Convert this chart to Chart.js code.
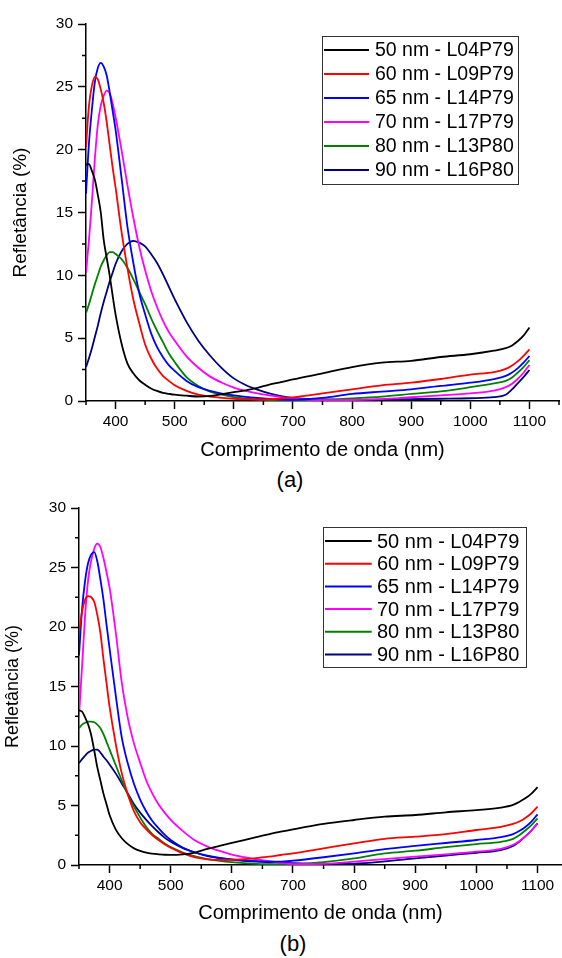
<!DOCTYPE html>
<html>
<head>
<meta charset="utf-8">
<script src="https://cdn.jsdelivr.net/npm/chart.js@4.4.0/dist/chart.umd.min.js"></script>
<style>
  body { margin: 0; background: #fff; width: 562px; height: 958px; position: relative; overflow: hidden;
         font-family: 'Liberation Sans', Arial, sans-serif; }
  canvas { position: absolute; left: 0; }
  .tag { position: absolute; font-size: 22px; line-height: 22px; color: #000; transform: translate(-50%, -50%); }
</style>
</head>
<body>
<canvas id="chartA" width="562" height="463" style="top:0"></canvas>
<div class="tag" style="left:290px;top:480px">(a)</div>
<canvas id="chartB" width="562" height="436" style="top:490px"></canvas>
<div class="tag" style="left:293px;top:944px">(b)</div>

<script>
// wavelength grid (nm)
const wavelengths = [350, 355, 360, 365, 370, 375, 380, 385, 390, 395, 400,
    410, 420, 430, 440, 450, 460, 470, 480, 490, 500,
    520, 540, 560, 580, 600, 620, 640, 660, 680, 700,
    750, 800, 850, 900, 950, 1000,
    1040, 1060, 1070, 1080, 1090, 1100];

const seriesLabels = ['50 nm - L04P79', '60 nm - L09P79', '65 nm - L14P79', '70 nm - L17P79', '80 nm - L13P80', '90 nm - L16P80'];
const seriesColors = ['#000000', '#ff0000', '#0000ff', '#ff00ff', '#008000', '#000080'];

// ==================== (a) reflectance (%) ====================
const a50 = [18.8, 18.85, 18.3, 17.6, 16.4, 15.0, 12.8, 11.4, 10.0, 8.4, 6.9,
    4.6, 3.0, 2.2, 1.65, 1.3, 1.0, 0.8, 0.65, 0.57, 0.5,
    0.42, 0.36, 0.4, 0.55, 0.7, 0.85, 1.05, 1.3, 1.5, 1.72,
    2.2, 2.7, 3.05, 3.2, 3.5, 3.72,
    4.0, 4.2, 4.4, 4.75, 5.2, 5.85];
const a60 = [20.2, 23.5, 25.1, 25.8, 25.6, 24.8, 23.7, 22.2, 20.4, 18.6, 17.0,
    13.5, 10.6, 8.1, 6.2, 4.5, 3.4, 2.6, 2.0, 1.6, 1.25,
    0.8, 0.5, 0.35, 0.25, 0.18, 0.13, 0.12, 0.14, 0.2, 0.29,
    0.6, 0.93, 1.25, 1.46, 1.75, 2.1,
    2.3, 2.55, 2.8, 3.15, 3.6, 4.1];
const a65 = [16.5, 20.5, 23.2, 25.4, 26.5, 26.9, 26.6, 25.9, 24.6, 23.1, 21.6,
    17.8, 13.9, 11.0, 8.6, 6.9, 5.4, 4.3, 3.5, 2.85, 2.4,
    1.6, 1.1, 0.8, 0.58, 0.45, 0.33, 0.24, 0.17, 0.12, 0.1,
    0.25, 0.56, 0.75, 0.93, 1.2, 1.46,
    1.75, 2.0, 2.25, 2.6, 3.05, 3.58];
const a70 = [10.2, 12.8, 15.9, 19.3, 22.0, 23.5, 24.3, 24.7, 24.5, 23.7, 22.6,
    20.0, 17.2, 14.6, 12.3, 10.4, 8.8, 7.5, 6.4, 5.5, 4.8,
    3.55, 2.65, 1.94, 1.45, 1.07, 0.8, 0.6, 0.45, 0.31, 0.2,
    0.06, 0.08, 0.15, 0.3, 0.45, 0.61,
    0.82, 1.1, 1.35, 1.75, 2.25, 2.87];
const a80 = [7.0, 7.7, 8.5, 9.3, 10.0, 10.7, 11.2, 11.6, 11.85, 11.85, 11.7,
    11.3, 10.6, 9.7, 8.7, 7.7, 6.6, 5.6, 4.7, 3.8, 3.1,
    1.9, 1.2, 0.75, 0.5, 0.3, 0.18, 0.12, 0.08, 0.06, 0.05,
    0.08, 0.2, 0.35, 0.56, 0.77, 1.1,
    1.4, 1.6, 1.85, 2.25, 2.7, 3.25];
const a90 = [2.7, 3.4, 4.2, 5.1, 6.0, 7.0, 7.9, 8.7, 9.5, 10.2, 10.9,
    11.9, 12.5, 12.75, 12.6, 12.3, 11.7, 11.0, 10.1, 9.1, 8.1,
    6.3, 4.8, 3.6, 2.6, 1.8, 1.27, 0.9, 0.6, 0.38, 0.25,
    0.12, 0.1, 0.12, 0.15, 0.18, 0.22,
    0.3, 0.5, 0.9, 1.4, 1.9, 2.47];

// ==================== (b) reflectance (%) ====================
const b50 = [13.0, 12.9, 12.4, 11.8, 10.9, 9.6, 8.2, 7.1, 6.0, 5.1, 4.2,
    3.0, 2.25, 1.75, 1.4, 1.18, 1.03, 0.95, 0.9, 0.86, 0.85,
    0.9, 1.05, 1.35, 1.6, 1.85, 2.1, 2.35, 2.58, 2.8, 3.0,
    3.45, 3.78, 4.06, 4.2, 4.43, 4.62,
    4.82, 5.05, 5.3, 5.6, 6.0, 6.55];
const b60 = [19.5, 21.3, 22.3, 22.6, 22.5, 22.1, 21.0, 19.5, 17.3, 15.3, 13.3,
    10.2, 7.7, 5.9, 4.5, 3.6, 3.0, 2.5, 2.1, 1.75, 1.45,
    0.98, 0.65, 0.48, 0.42, 0.44, 0.5, 0.58, 0.7, 0.84, 0.98,
    1.4, 1.82, 2.2, 2.38, 2.6, 2.94,
    3.2, 3.45, 3.65, 3.95, 4.35, 4.9];
const b65 = [17.6, 21.5, 23.9, 25.4, 26.1, 26.3, 25.5, 24.0, 22.3, 20.2, 18.2,
    14.3, 10.7, 8.5, 6.8, 5.5, 4.5, 3.7, 3.1, 2.55, 2.1,
    1.45, 1.05, 0.78, 0.6, 0.47, 0.38, 0.32, 0.28, 0.28, 0.36,
    0.65, 0.98, 1.33, 1.6, 1.85, 2.1,
    2.35, 2.6, 2.85, 3.2, 3.65, 4.26];
const b70 = [12.5, 16.7, 21.0, 24.0, 25.6, 26.6, 27.0, 26.7, 25.8, 24.6, 23.3,
    19.6, 15.3, 12.3, 10.2, 8.6, 7.1, 6.0, 5.1, 4.4, 3.8,
    2.85, 2.05, 1.55, 1.18, 0.88, 0.66, 0.47, 0.33, 0.2, 0.08,
    0.1, 0.28, 0.5, 0.7, 0.9, 1.12,
    1.35, 1.7, 2.0, 2.4, 2.9, 3.5];
const b80 = [11.5, 11.8, 11.95, 12.05, 12.05, 12.0, 11.8, 11.5, 11.0, 10.35, 9.7,
    8.4, 7.1, 5.9, 4.9, 4.0, 3.2, 2.6, 2.2, 1.8, 1.5,
    1.05, 0.72, 0.5, 0.35, 0.24, 0.16, 0.1, 0.07, 0.05, 0.06,
    0.25, 0.56, 0.98, 1.2, 1.5, 1.76,
    1.95, 2.2, 2.5, 2.9, 3.35, 3.92];
const b90 = [8.55, 8.9, 9.2, 9.45, 9.6, 9.7, 9.7, 9.45, 9.1, 8.8, 8.45,
    7.7, 6.85, 6.0, 5.1, 4.4, 3.8, 3.25, 2.75, 2.3, 1.95,
    1.42, 1.05, 0.75, 0.58, 0.45, 0.35, 0.28, 0.23, 0.2, 0.15,
    0.1, 0.12, 0.3, 0.56, 0.8, 1.03,
    1.25, 1.6, 1.95, 2.4, 2.9, 3.5];

const FONT = "'Liberation Sans', Arial, sans-serif";
Chart.defaults.font.family = FONT;
Chart.defaults.color = '#000';

// Minor ticks (short, no label) drawn from the scale's own ticks
const minorTicks = {
    id: 'minorTicks',
    afterDraw(chart) {
        const { ctx } = chart;
        const xs = chart.scales.x, ys = chart.scales.y;
        ctx.save();
        ctx.strokeStyle = '#000';
        ctx.lineWidth = 1.5;
        ctx.beginPath();
        xs.ticks.forEach(t => {
            if (t.value % 100 === 0) return;
            const p = xs.getPixelForValue(t.value);
            ctx.moveTo(p, ys.bottom);
            ctx.lineTo(p, ys.bottom + 4);
        });
        ys.ticks.forEach(t => {
            if (t.value % 5 === 0) return;
            const p = ys.getPixelForValue(t.value);
            ctx.moveTo(xs.left, p);
            ctx.lineTo(xs.left - 4, p);
        });
        ctx.stroke();
        ctx.restore();
    }
};

// Legend box inside the plot
const boxLegend = {
    id: 'boxLegend',
    afterDatasetsDraw(chart, args, o) {
        const { ctx } = chart;
        ctx.save();
        ctx.strokeStyle = '#333';
        ctx.lineWidth = 1;
        ctx.strokeRect(o.left + 0.5, o.top + 0.5, o.width, o.height);
        ctx.font = o.fontSize + 'px ' + FONT;
        ctx.textBaseline = 'middle';
        ctx.textAlign = 'left';
        chart.data.datasets.forEach((ds, i) => {
            const y = o.firstRow + i * o.rowGap;
            ctx.strokeStyle = ds.borderColor;
            ctx.lineWidth = 2;
            ctx.beginPath();
            ctx.moveTo(o.lineX0, y);
            ctx.lineTo(o.lineX1, y);
            ctx.stroke();
            ctx.fillStyle = '#000';
            ctx.fillText(ds.label, o.textX, y + 1);
        });
        ctx.restore();
    }
};

function makeDatasets(values) {
    return values.map((arr, i) => ({
        label: seriesLabels[i],
        data: wavelengths.map((w, k) => ({ x: w, y: arr[k] })),
        borderColor: seriesColors[i],
        borderWidth: 1.8,
        pointRadius: 0,
        fill: false,
        cubicInterpolationMode: 'monotone'
    }));
}

function makeChart(id, values, cfg) {
    const ctx = document.getElementById(id).getContext('2d');
    return new Chart(ctx, {
        type: 'line',
        data: { datasets: makeDatasets(values) },
        options: {
            responsive: false,
            animation: false,
            events: [],
            layout: { padding: cfg.padding },
            plugins: {
                legend: { display: false },
                tooltip: { enabled: false },
                boxLegend: cfg.legend
            },
            scales: {
                x: {
                    type: 'linear',
                    min: 350,
                    max: cfg.xMax,
                    afterFit: s => { s.height = cfg.xHeight; },
                    ticks: {
                        stepSize: 50,
                        includeBounds: false,
                        autoSkip: false,
                        maxTicksLimit: 100,
                        maxRotation: 0,
                        padding: 3,
                        color: '#000',
                        font: { size: 15.5 },
                        callback: v => (v % 100 === 0 ? String(v) : '')
                    },
                    grid: {
                        drawOnChartArea: false,
                        drawTicks: true,
                        tickLength: 8,
                        tickWidth: 1.5,
                        tickColor: c => (c.tick && c.tick.value % 100 === 0 ? '#000' : 'rgba(0,0,0,0)')
                    },
                    border: { display: true, color: '#000', width: 1.5 },
                    title: {
                        display: true,
                        text: 'Comprimento de onda (nm)',
                        color: '#000',
                        font: { size: 20 },
                        padding: { top: 0, bottom: 0 }
                    }
                },
                y: {
                    type: 'linear',
                    min: 0,
                    max: 30,
                    afterFit: s => { s.width = cfg.yWidth; },
                    ticks: {
                        stepSize: 2.5,
                        autoSkip: false,
                        maxTicksLimit: 100,
                        padding: 5,
                        color: '#000',
                        font: { size: 15.5 },
                        callback: v => (v % 5 === 0 ? String(v) : '')
                    },
                    grid: {
                        drawOnChartArea: false,
                        drawTicks: true,
                        tickLength: 8,
                        tickWidth: 1.5,
                        tickColor: c => (c.tick && c.tick.value % 5 === 0 ? '#000' : 'rgba(0,0,0,0)')
                    },
                    border: { display: true, color: '#000', width: 1.5 },
                    title: {
                        display: true,
                        text: 'Refletância (%)',
                        color: '#000',
                        font: { size: cfg.yTitleSize },
                        padding: { top: cfg.yTitlePad, bottom: 0 }
                    }
                }
            }
        },
        plugins: [minorTicks, boxLegend]
    });
}

makeChart('chartA', [a50, a60, a65, a70, a80, a90], {
    padding: { top: 24, right: 2, bottom: 1, left: 0 },
    xMax: 1150, xHeight: 61, yWidth: 86, yTitleSize: 19, yTitlePad: 9.6,
    legend: { left: 322, top: 36, width: 196, height: 148, firstRow: 50, rowGap: 24,
              lineX0: 324, lineX1: 369, textX: 375, fontSize: 19.5 }
});

makeChart('chartB', [b50, b60, b65, b70, b80, b90], {
    padding: { top: 18, right: 0, bottom: 1, left: 0 },
    xMax: 1140, xHeight: 60, yWidth: 79, yTitleSize: 18, yTitlePad: 2.2,
    legend: { left: 323, top: 37, width: 203, height: 140, firstRow: 51, rowGap: 22.7,
              lineX0: 325, lineX1: 371.7, textX: 377, fontSize: 20 }
});
</script>
</body>
</html>
